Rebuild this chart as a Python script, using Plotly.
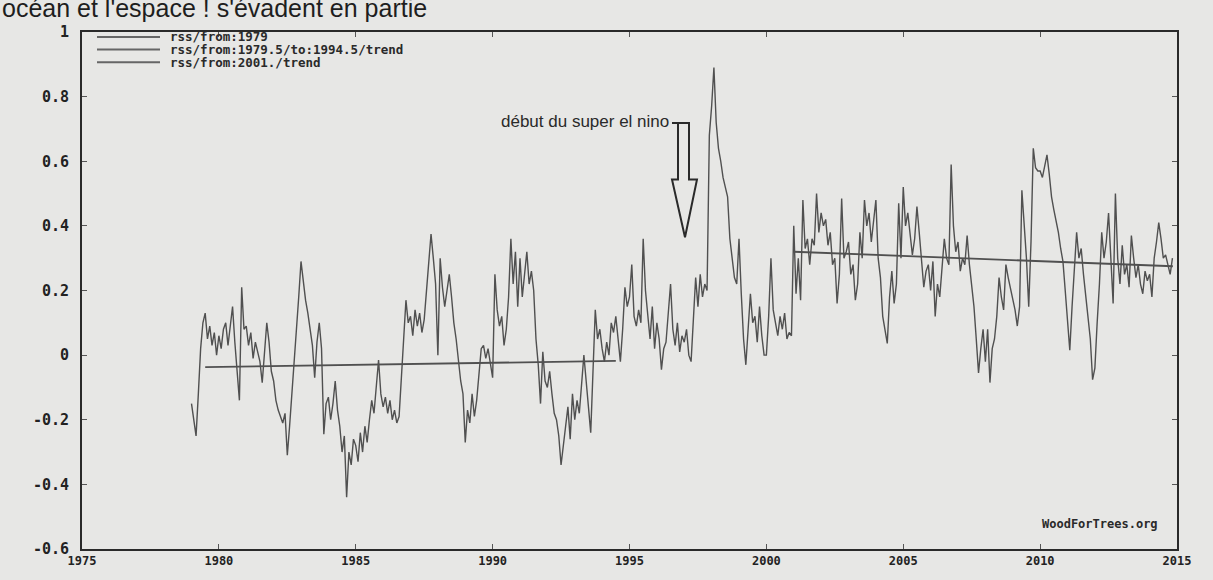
import plotly.graph_objects as go

# ---------------- data ----------------
START_YEAR = 1979
rss_1979 = [-0.15, -0.20, -0.25, -0.12, 0.02, 0.10, 0.13, 0.05, 0.09, 0.03, 0.07, 0.00]
rss_1980 = [0.06, 0.02, 0.08, 0.10, 0.03, 0.09, 0.15, 0.04, -0.05, -0.14, 0.21, 0.08]
rss_1981 = [0.09, 0.03, 0.07, -0.01, 0.04, 0.01, -0.02, -0.085, 0.02, 0.10, 0.04, -0.05]
rss_1982 = [-0.08, -0.14, -0.17, -0.19, -0.21, -0.18, -0.31, -0.22, -0.12, -0.05, 0.05, 0.18]
rss_1983 = [0.29, 0.22, 0.17, 0.13, 0.08, 0.03, -0.07, 0.04, 0.10, 0.02, -0.245, -0.15]
rss_1984 = [-0.13, -0.20, -0.15, -0.08, -0.17, -0.22, -0.30, -0.25, -0.44, -0.30, -0.34, -0.26]
rss_1985 = [-0.28, -0.33, -0.24, -0.30, -0.22, -0.27, -0.20, -0.14, -0.18, -0.10, -0.015, -0.12]
rss_1986 = [-0.16, -0.13, -0.18, -0.14, -0.20, -0.17, -0.21, -0.19, -0.05, 0.05, 0.17, 0.10]
rss_1987 = [0.12, 0.06, 0.14, 0.09, 0.13, 0.07, 0.11, 0.20, 0.28, 0.375, 0.30, 0.22]
rss_1988 = [0.00, 0.30, 0.21, 0.15, 0.20, 0.25, 0.18, 0.10, 0.05, -0.02, -0.08, -0.12]
rss_1989 = [-0.27, -0.17, -0.21, -0.12, -0.19, -0.14, -0.06, 0.02, 0.03, -0.01, 0.02, -0.03]
rss_1990 = [-0.07, 0.25, 0.14, 0.09, 0.12, 0.03, 0.08, 0.18, 0.36, 0.22, 0.32, 0.15]
rss_1991 = [0.30, 0.18, 0.25, 0.32, 0.22, 0.26, 0.20, 0.05, -0.03, -0.15, 0.01, -0.08]
rss_1992 = [-0.10, -0.05, -0.12, -0.18, -0.20, -0.25, -0.34, -0.28, -0.22, -0.16, -0.26, -0.12]
rss_1993 = [-0.20, -0.14, -0.18, -0.10, 0.00, -0.08, -0.15, -0.24, -0.05, 0.14, 0.05, 0.08]
rss_1994 = [0.02, -0.02, 0.04, 0.00, 0.10, 0.07, 0.12, 0.05, -0.02, 0.08, 0.21, 0.15]
rss_1995 = [0.18, 0.28, 0.12, 0.09, 0.14, 0.10, 0.36, 0.20, 0.12, 0.05, 0.15, 0.02]
rss_1996 = [0.10, 0.05, -0.045, 0.02, 0.04, 0.12, 0.22, 0.08, 0.03, 0.10, 0.01, 0.06]
rss_1997 = [0.04, 0.08, 0.00, -0.02, 0.10, 0.24, 0.15, 0.25, 0.18, 0.22, 0.20, 0.68]
rss_1998 = [0.77, 0.89, 0.72, 0.64, 0.60, 0.55, 0.52, 0.49, 0.36, 0.30, 0.24, 0.22]
rss_1999 = [0.36, 0.19, 0.05, -0.03, 0.08, 0.19, 0.10, 0.12, 0.04, 0.15, 0.06, 0.00]
rss_2000 = [0.00, 0.12, 0.30, 0.14, 0.10, 0.06, 0.12, 0.08, 0.13, 0.05, 0.07, 0.06]
rss_2001 = [0.40, 0.19, 0.30, 0.17, 0.48, 0.33, 0.36, 0.28, 0.36, 0.34, 0.50, 0.38]
rss_2002 = [0.44, 0.40, 0.42, 0.34, 0.38, 0.28, 0.30, 0.16, 0.25, 0.485, 0.30, 0.32]
rss_2003 = [0.35, 0.25, 0.28, 0.17, 0.22, 0.38, 0.30, 0.48, 0.40, 0.44, 0.35, 0.42]
rss_2004 = [0.48, 0.30, 0.24, 0.12, 0.08, 0.036, 0.18, 0.26, 0.16, 0.22, 0.47, 0.30]
rss_2005 = [0.52, 0.40, 0.44, 0.38, 0.31, 0.36, 0.46, 0.38, 0.30, 0.21, 0.26, 0.28]
rss_2006 = [0.20, 0.29, 0.12, 0.22, 0.18, 0.26, 0.36, 0.30, 0.28, 0.59, 0.40, 0.32]
rss_2007 = [0.35, 0.26, 0.30, 0.28, 0.37, 0.28, 0.22, 0.15, 0.05, -0.055, 0.02, 0.08]
rss_2008 = [-0.02, 0.08, -0.085, 0.02, 0.05, 0.12, 0.24, 0.18, 0.14, 0.28, 0.24, 0.21]
rss_2009 = [0.18, 0.14, 0.09, 0.15, 0.51, 0.40, 0.30, 0.15, 0.35, 0.64, 0.58, 0.57]
rss_2010 = [0.57, 0.55, 0.58, 0.62, 0.56, 0.49, 0.45, 0.42, 0.38, 0.33, 0.29, 0.20]
rss_2011 = [0.10, 0.015, 0.15, 0.25, 0.38, 0.30, 0.33, 0.25, 0.18, 0.10, 0.05, -0.076]
rss_2012 = [-0.04, 0.10, 0.22, 0.38, 0.30, 0.35, 0.44, 0.30, 0.16, 0.50, 0.30, 0.22]
rss_2013 = [0.34, 0.25, 0.28, 0.21, 0.37, 0.30, 0.24, 0.28, 0.22, 0.19, 0.26, 0.23]
rss_2014 = [0.25, 0.18, 0.30, 0.35, 0.41, 0.36, 0.30, 0.31, 0.28, 0.25, 0.30]

trend1_x = [1979.5, 1994.5]
trend1_y = [-0.037, -0.018]
trend2_x = [2001.0, 2014.85]
trend2_y = [0.32, 0.275]

legend_labels = ["rss/from:1979", "rss/from:1979.5/to:1994.5/trend", "rss/from:2001./trend"]
x_tick_vals = [1975, 1980, 1985, 1990, 1995, 2000, 2005, 2010, 2015]
y_tick_vals = [-0.6, -0.4, -0.2, 0, 0.2, 0.4, 0.6, 0.8, 1]
y_tick_text = ["-0.6", "-0.4", "-0.2", "0", "0.2", "0.4", "0.6", "0.8", "1"]

annotation_text = "début du super el nino"
credit_text = "WoodForTrees.org"
page_text = "océan et l'espace ! s'évadent en partie"

# ---------------- build ----------------
rss = (rss_1979 + rss_1980 + rss_1981 + rss_1982 + rss_1983 + rss_1984 + rss_1985 +
       rss_1986 + rss_1987 + rss_1988 + rss_1989 + rss_1990 + rss_1991 + rss_1992 +
       rss_1993 + rss_1994 + rss_1995 + rss_1996 + rss_1997 + rss_1998 + rss_1999 +
       rss_2000 + rss_2001 + rss_2002 + rss_2003 + rss_2004 + rss_2005 + rss_2006 +
       rss_2007 + rss_2008 + rss_2009 + rss_2010 + rss_2011 + rss_2012 + rss_2013 +
       rss_2014)
months = [START_YEAR + i / 12 for i in range(len(rss))]

W, H = 1213, 580
L, R, T, B = 82, 1177, 32, 561   # plot area in pixels


def px(p):
    return (p - L) / (R - L)


def py(p):
    return (B - p) / (B - T)


BG = "#e7e7e5"
INK = "#2a2a2a"
LINE = "#505050"
MONO = "DejaVu Sans Mono"

fig = go.Figure()
fig.add_trace(go.Scatter(x=months, y=rss, mode="lines",
                         line=dict(color=LINE, width=1.4), showlegend=False,
                         hoverinfo="skip"))
fig.add_trace(go.Scatter(x=trend1_x, y=trend1_y, mode="lines",
                         line=dict(color="#505050", width=1.8), showlegend=False))
fig.add_trace(go.Scatter(x=trend2_x, y=trend2_y, mode="lines",
                         line=dict(color="#505050", width=1.8), showlegend=False))

shapes = []
annotations = []

# legend (drawn compactly as in the original)
row_y = [37, 50, 63]
for lab, ry in zip(legend_labels, row_y):
    shapes.append(dict(type="line", xref="paper", yref="paper",
                       x0=px(97), x1=px(160), y0=py(ry), y1=py(ry),
                       line=dict(color="#666666", width=2)))
    annotations.append(dict(text=lab, xref="paper", yref="paper",
                            x=px(168), y=py(ry), xanchor="left", yanchor="middle",
                            showarrow=False,
                            font=dict(family=MONO, size=12.5, color=INK, weight="bold")))

# hollow arrow marking the El Nino onset
arrow_pts = [(672, 125), (678, 125), (689, 125), (689, 183), (697, 183),
             (685, 242), (672, 183), (678, 183), (678, 125)]
path = "M " + " L ".join(f"{px(a):.5f},{py(b):.5f}" for a, b in arrow_pts)
shapes.append(dict(type="path", xref="paper", yref="paper", path=path,
                   line=dict(color=INK, width=2), fillcolor="rgba(0,0,0,0)"))
annotations.append(dict(text=annotation_text, xref="paper", yref="paper",
                        x=px(671), y=py(124), xanchor="right", yanchor="middle",
                        showarrow=False,
                        font=dict(family="Liberation Sans", size=17, color=INK)))

annotations.append(dict(text=credit_text, xref="paper", yref="paper",
                        x=px(1160), y=py(535), xanchor="right", yanchor="middle",
                        showarrow=False,
                        font=dict(family=MONO, size=12, color=INK, weight="bold")))

annotations.append(dict(text=page_text, xref="paper", yref="paper",
                        x=px(0), y=py(7), xanchor="left", yanchor="middle",
                        showarrow=False,
                        font=dict(family="Liberation Sans", size=25, color="#1e1e1e")))

fig.update_layout(
    width=W, height=H,
    margin=dict(l=L, r=W - R, t=T, b=H - B, pad=0),
    paper_bgcolor=BG, plot_bgcolor=BG,
    shapes=shapes, annotations=annotations,
    showlegend=False,
)
fig.update_xaxes(range=[1975, 2015], tickvals=x_tick_vals,
                 ticktext=[str(v) for v in x_tick_vals],
                 ticks="inside", ticklen=5, tickcolor="#555555",
                 showline=True, linecolor=INK, linewidth=2, mirror="ticks",
                 showgrid=False, zeroline=False,
                 tickfont=dict(family=MONO, size=12, color="#222222", weight="bold"))
fig.update_yaxes(range=[-0.6, 1], tickvals=y_tick_vals, ticktext=y_tick_text,
                 ticks="inside", ticklen=5, tickcolor="#555555",
                 showline=True, linecolor=INK, linewidth=2, mirror="ticks",
                 showgrid=False, zeroline=False, ticklabelstandoff=8,
                 tickfont=dict(family=MONO, size=15, color="#222222", weight="bold"))

fig.write_html(
    "out.html",
    config={"displayModeBar": False},
    post_script="document.body.style.margin='0px';"
                "document.body.style.backgroundColor='#e7e7e5';",
)
